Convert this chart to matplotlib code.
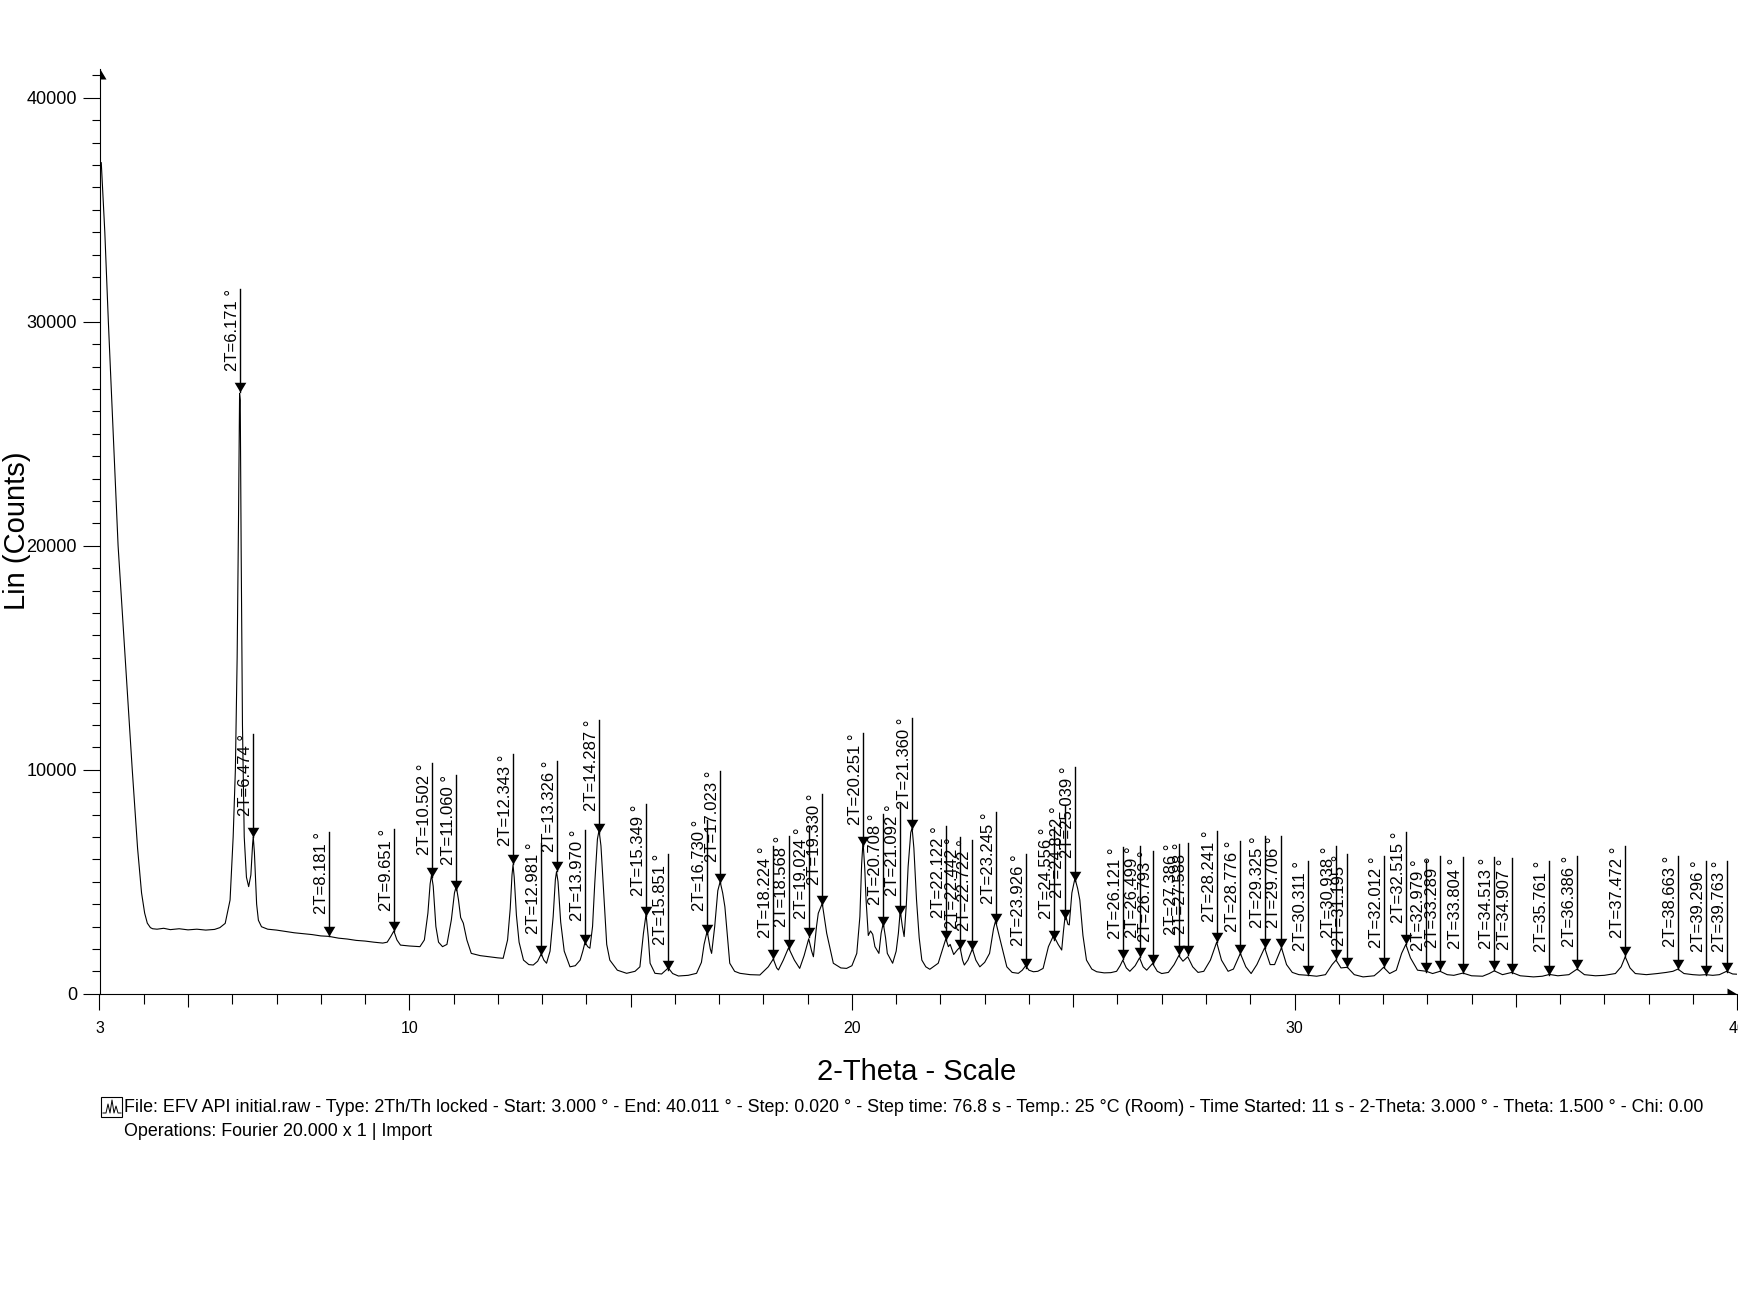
import numpy as np
import matplotlib.pyplot as plt
from matplotlib import transforms as mtransforms
from matplotlib.patches import Rectangle
from matplotlib.lines import Line2D

plt.rcParams['font.family'] = ['Liberation Sans', 'DejaVu Sans']

# diffractogram (2-theta in degrees, intensity in counts)
two_theta = [
    3.04, 3.12, 3.20, 3.31, 3.42, 3.58, 3.74, 3.86, 3.95, 4.02, 4.08, 4.15, 4.20, 4.30, 4.45, 4.60,
    4.80, 5.00, 5.20, 5.40, 5.60, 5.72, 5.84, 5.95, 6.02, 6.07, 6.11, 6.14, 6.165, 6.18, 6.20,
    6.23, 6.27, 6.32, 6.37, 6.42, 6.46, 6.474, 6.50, 6.55, 6.59, 6.66, 6.80, 7.00, 7.20, 7.40,
    7.60, 7.80, 8.00, 8.181, 8.40, 8.60, 8.80, 9.00, 9.20, 9.40, 9.50, 9.58, 9.651, 9.72, 9.80,
    10.00, 10.24, 10.34, 10.42, 10.47, 10.502, 10.54, 10.60, 10.66, 10.75, 10.85, 10.95, 11.02, 11.06, 11.11,
    11.16, 11.22, 11.30, 11.40, 11.60, 11.80, 12.00, 12.12, 12.22, 12.28, 12.32, 12.343, 12.37, 12.42, 12.48,
    12.58, 12.70, 12.80, 12.90, 12.981, 13.04, 13.10, 13.18, 13.25, 13.30, 13.326, 13.36, 13.42, 13.50, 13.63,
    13.75, 13.86, 13.92, 13.97, 14.03, 14.08, 14.14, 14.19, 14.25, 14.287, 14.33, 14.38, 14.46, 14.53, 14.70,
    14.91, 15.10, 15.21, 15.29, 15.349, 15.40, 15.44, 15.55, 15.70, 15.851, 15.95, 16.08, 16.30, 16.49, 16.60,
    16.66, 16.73, 16.80, 16.83, 16.90, 16.97, 17.023, 17.08, 17.13, 17.24, 17.35, 17.47, 17.70, 17.92, 18.11,
    18.224, 18.30, 18.34, 18.45, 18.568, 18.70, 18.82, 18.92, 19.024, 19.09, 19.13, 19.20, 19.24, 19.33, 19.43,
    19.58, 19.75, 19.88, 20.00, 20.11, 20.18, 20.22, 20.251, 20.29, 20.32, 20.37, 20.42, 20.47, 20.52, 20.61,
    20.66, 20.708, 20.76, 20.80, 20.92, 21.00, 21.05, 21.092, 21.14, 21.18, 21.23, 21.27, 21.33, 21.36, 21.40,
    21.46, 21.52, 21.58, 21.67, 21.76, 21.95, 22.05, 22.122, 22.18, 22.22, 22.30, 22.38, 22.442, 22.50, 22.54,
    22.62, 22.722, 22.80, 22.89, 23.00, 23.11, 23.20, 23.245, 23.30, 23.35, 23.50, 23.62, 23.76, 23.85, 23.926,
    24.00, 24.10, 24.20, 24.32, 24.44, 24.556, 24.66, 24.74, 24.78, 24.822, 24.88, 24.91, 24.97, 25.039, 25.10,
    25.15, 25.22, 25.30, 25.42, 25.53, 25.70, 25.85, 25.98, 26.06, 26.121, 26.20, 26.28, 26.40, 26.499, 26.58,
    26.66, 26.793, 26.90, 27.00, 27.15, 27.28, 27.386, 27.48, 27.588, 27.70, 27.82, 27.95, 28.10, 28.241, 28.35,
    28.50, 28.62, 28.776, 28.90, 29.02, 29.15, 29.325, 29.45, 29.55, 29.706, 29.82, 29.95, 30.10, 30.311, 30.50,
    30.70, 30.85, 30.938, 31.05, 31.195, 31.35, 31.55, 31.80, 31.92, 32.012, 32.15, 32.30, 32.42, 32.515, 32.62,
    32.78, 32.979, 33.12, 33.289, 33.45, 33.60, 33.804, 34.00, 34.25, 34.40, 34.513, 34.70, 34.907, 35.10, 35.40,
    35.60, 35.761, 35.95, 36.20, 36.386, 36.55, 36.80, 37.00, 37.25, 37.38, 37.472, 37.58, 37.70, 37.95, 38.20,
    38.40, 38.55, 38.663, 38.80, 39.00, 39.15, 39.296, 39.45, 39.60, 39.763, 39.90, 40.00,
]
counts = [
    37100, 34000, 30000, 25000, 20000, 15000, 10000, 6500, 4500, 3600, 3150, 2950, 2900, 2880, 2920, 2860,
    2900, 2850, 2880, 2840, 2870, 2950, 3140, 4180, 7000, 10000, 15000, 21000, 26800, 26500, 20000,
    12000, 7000, 5200, 4780, 5300, 6700, 7000, 6300, 4000, 3280, 2990, 2880, 2840, 2780, 2720,
    2680, 2640, 2580, 2560, 2480, 2440, 2380, 2350, 2300, 2260, 2300, 2550, 2800, 2400, 2170,
    2130, 2100, 2400, 3600, 4900, 5300, 4800, 3000, 2300, 2100, 2200, 3300, 4500, 4800, 4200,
    3400, 3150, 2400, 1800, 1700, 1650, 1600, 1580, 2400, 3800, 5300, 5750, 5200, 3500, 2300,
    1500, 1300, 1280, 1450, 1780, 1500, 1360, 1900, 3440, 5100, 5450, 5000, 3200, 1900, 1200,
    1250, 1500, 1900, 2300, 2100, 2030, 3000, 4930, 6900, 7300, 6600, 4930, 2200, 1500, 1050,
    910, 1000, 1200, 2700, 3550, 2500, 1360, 910, 880, 1150, 900, 790, 820, 910, 1400,
    2200, 2800, 2000, 1800, 3000, 4600, 5000, 4500, 3880, 1360, 1000, 910, 850, 835, 1200,
    1550, 1150, 1060, 1500, 2050, 1500, 1130, 1700, 2450, 1900, 1650, 3000, 3590, 4030, 2700,
    1360, 1150, 1130, 1250, 1800, 3440, 5800, 6800, 5600, 4180, 2600, 2800, 2650, 2100, 1800,
    2700, 3150, 2500, 1800, 1360, 1900, 2700, 3700, 3000, 2550, 4000, 5670, 7200, 7400, 6500,
    4180, 2500, 1500, 1200, 1090, 1360, 2000, 2450, 2100, 2200, 1750, 1950, 2080, 1500, 1280,
    1500, 2000, 1500, 1200, 1400, 1800, 2900, 3250, 2800, 2400, 1200, 950, 910, 1050, 1250,
    1050, 980, 1000, 1130, 2100, 2600, 2200, 1950, 2800, 3550, 3100, 3070, 4500, 5150, 4700,
    4180, 2600, 1500, 1100, 980, 930, 940, 1000, 1250, 1500, 1150, 1000, 1250, 1600, 1200,
    1050, 1350, 1000, 900, 950, 1300, 1700, 1450, 1650, 1200, 950, 1000, 1500, 2300, 1500,
    1000, 1100, 1800, 1200, 900, 1300, 2050, 1300, 1300, 2050, 1300, 950, 850, 820, 780,
    850, 1300, 1500, 1150, 1180, 850, 750, 800, 1000, 1180, 900, 1050, 1800, 2200, 1600,
    1050, 1000, 900, 1000, 850, 820, 920, 800, 780, 900, 1020, 850, 950, 800, 750,
    780, 860, 800, 850, 1100, 850, 800, 820, 900, 1200, 1650, 1150, 900, 850, 900,
    950, 1000, 1100, 900, 850, 830, 850, 820, 850, 1000, 880, 870,
]

# peak search results
peak_pos = [6.171, 6.474, 8.181, 9.651, 10.502, 11.060, 12.343, 12.981, 13.326, 13.970,
            14.287, 15.349, 15.851, 16.730, 17.023, 18.224, 18.568, 19.024, 19.330, 20.251,
            20.708, 21.092, 21.360, 22.122, 22.442, 22.722, 23.245, 23.926, 24.556, 24.822,
            25.039, 26.121, 26.499, 26.793, 27.386, 27.588, 28.241, 28.776, 29.325, 29.706,
            30.311, 30.938, 31.195, 32.012, 32.515, 32.979, 33.289, 33.804, 34.513, 34.907,
            35.761, 36.386, 37.472, 38.663, 39.296, 39.763]
peak_height = [26870, 6980, 2570, 2820, 5200, 4650, 5790, 1730, 5490, 2230,
               7170, 3460, 1040, 2670, 4950, 1530, 1980, 2520, 3960, 6580,
               3020, 3510, 7370, 2380, 1980, 1930, 3170, 1140, 2380, 3320,
               5050, 1530, 1630, 1340, 1730, 1730, 2330, 1780, 2030, 2030,
               840, 1530, 1190, 1190, 2230, 990, 1040, 940, 1040, 940,
               840, 1090, 1680, 1090, 840, 990]
label_top = [31470, 11580, 7220, 7370, 10290, 9750, 10690, 6730, 10390, 7320,
             12220, 8460, 6230, 7770, 9950, 6580, 7030, 7420, 8910, 11630,
             8020, 8460, 12320, 7470, 6980, 6880, 8110, 6230, 7420, 8360,
             10140, 6530, 6580, 6380, 6680, 6730, 7270, 6830, 7030, 7030,
             5940, 6580, 6230, 6140, 7220, 5990, 6140, 6090, 6090, 6040,
             5940, 6140, 6580, 6140, 5940, 5940]

W, H = 1738, 1291
fig = plt.figure(figsize=(W / 100, H / 100), dpi=100)
ax = fig.add_axes([99.5 / W, (H - 993.7) / H, 1637.6 / W, 925.1 / H])

ax.plot(two_theta, counts, color='black', lw=0.8)

# peak markers: vertical line, arrow head on the curve, rotated label
tip = [(0, 0), (-0.6, 1), (0.6, 1), (0, 0)]
txt_tr = mtransforms.offset_copy(ax.transData, fig=fig, x=-3, y=0, units='dots')
for p, h, t in zip(peak_pos, peak_height, label_top):
    ax.plot([p, p], [h, t], color='black', lw=1.0)
    ax.plot([p], [h], marker=tip, ms=14, color='black', mec='black', mew=0)
    ax.text(p, t, f'2T={p:.3f} °', rotation=90, rotation_mode='anchor',
            ha='right', va='baseline', fontsize=12, transform=txt_tr)

ax.set_xlim(3, 40)
ax.set_ylim(0, 41300)

for s in ['top', 'right']:
    ax.spines[s].set_visible(False)
for s in ['left', 'bottom']:
    ax.spines[s].set_linewidth(0.8)

# half arrow heads at the axis ends
ax.plot([0], [1], marker=[(0, 0), (0, -1), (0.6, -1), (0, 0)], ms=14.4, color='black',
        mew=0, transform=ax.transAxes, clip_on=False)
ax.plot([1], [0], marker=[(0, 0), (-1, 0), (-1, 0.6), (0, 0)], ms=14.4, color='black',
        mew=0, transform=ax.transAxes, clip_on=False)

x_major = [3, 5, 10, 15, 20, 25, 30, 35, 40]
x_labels = ['3', '', '10', '', '20', '', '30', '', '40']
ax.set_xticks(x_major)
ax.set_xticklabels(x_labels)
ax.set_xticks([v for v in range(4, 40) if v not in x_major], minor=True)
ax.tick_params(axis='x', which='major', length=11.5, width=0.8, pad=8, labelsize=11.5)
ax.tick_params(axis='x', which='minor', length=7.2, width=0.8)
for tk, v in zip(ax.xaxis.get_major_ticks(), x_major):
    if v % 5 == 0 and v % 10 != 0:
        tk.tick1line.set_markersize(9.4)

ax.set_yticks([0, 10000, 20000, 30000, 40000])
ax.set_yticks(np.arange(1000, 41001, 1000), minor=True)
ax.tick_params(axis='y', which='major', length=12.2, width=0.8, pad=4, labelsize=13)
ax.tick_params(axis='y', which='minor', length=5.8, width=0.8)

fig.text(17 / W, 1 - 531 / H, 'Lin (Counts)', rotation=90, ha='center', va='center', fontsize=21)
fig.text(917 / W, 1 - 1072 / H, '2-Theta - Scale', ha='center', va='center', fontsize=21)

info = ('File: EFV API initial.raw - Type: 2Th/Th locked - Start: 3.000 ° - End: 40.011 ° - '
        'Step: 0.020 ° - Step time: 76.8 s - Temp.: 25 °C (Room) - Time Started: 11 s - '
        '2-Theta: 3.000 ° - Theta: 1.500 ° - Chi: 0.00')
fig.text(124 / W, 1 - 1108 / H, info, ha='left', va='center', fontsize=12.85)
fig.text(124 / W, 1 - 1132 / H, 'Operations: Fourier 20.000 x 1 | Import', ha='left', va='center', fontsize=12.85)

# little scan icon in front of the file line
fig.patches.append(Rectangle((101 / W, 1 - 1117 / H), 21 / W, 20 / H, transform=fig.transFigure,
                             fill=False, lw=0.8, edgecolor='black'))
icon_x = [103, 106, 108, 110, 112, 114, 116, 118, 121]
icon_y = [1113, 1113, 1104, 1113, 1100, 1113, 1106, 1113, 1113]
fig.lines.append(Line2D([v / W for v in icon_x], [1 - v / H for v in icon_y],
                        transform=fig.transFigure, color='black', lw=0.7))

fig.savefig('out.png', dpi=100)
